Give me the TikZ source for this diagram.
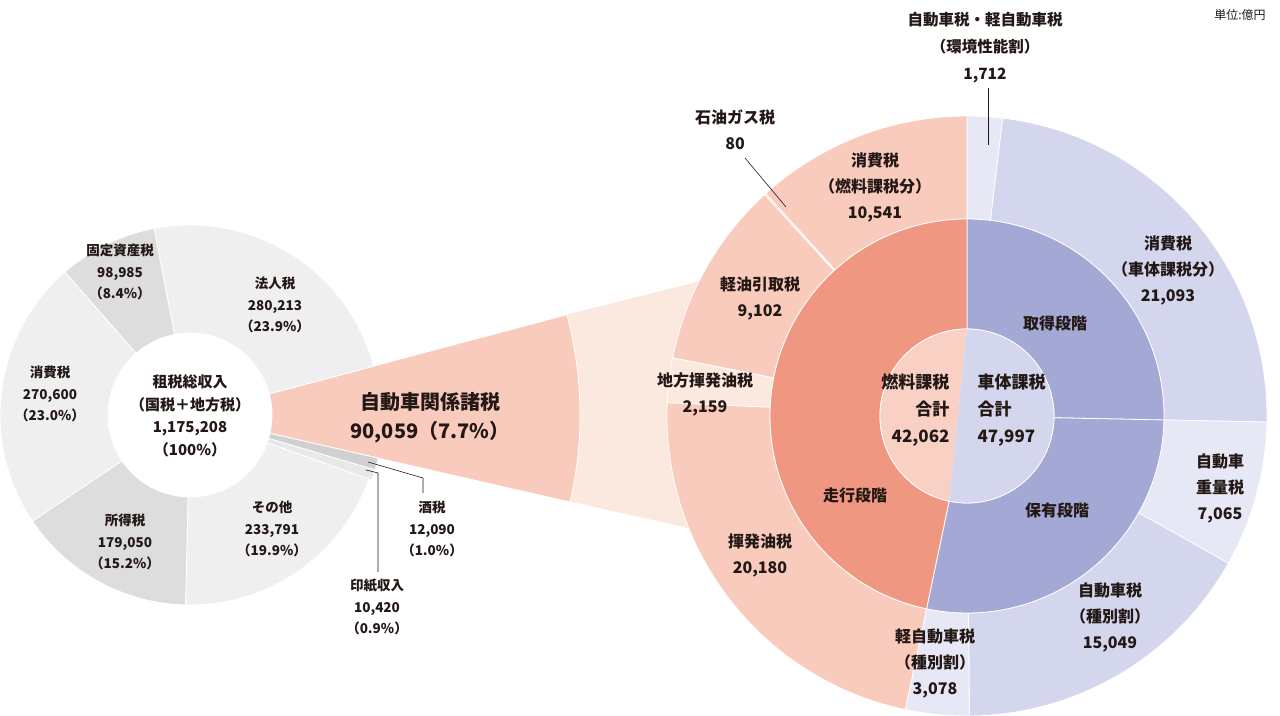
\documentclass[tikz,border=0pt]{standalone}
\usepackage{fontspec}
\setmainfont{Noto Sans CJK JP}
\usetikzlibrary{calc}
\definecolor{lg}{HTML}{EFEFEF}
\definecolor{dg}{HTML}{DCDDDC}
\definecolor{sal}{HTML}{F8CBBD}
\definecolor{cone}{HTML}{FBE9DF}
\definecolor{salm}{HTML}{F09782}
\definecolor{salc}{HTML}{F9D0C4}
\definecolor{lav}{HTML}{D3D6EC}
\definecolor{lavl}{HTML}{E6E8F5}
\definecolor{lavm}{HTML}{A3A8D5}
\definecolor{txt}{HTML}{231815}
\newcommand\sg[6]{\fill[#6,draw=white,line width=0.8pt] ($(#1)+(#4:#3pt)$) arc[start angle=#4,end angle=#5,radius=#3pt] -- ($(#1)+(#5:#2pt)$) arc[start angle=#5,end angle=#4,radius=#2pt] -- cycle;}
\begin{document}
\begin{tikzpicture}[x=1pt,y=1pt,
  big/.style={align=center,text=txt,font=\fontsize{16}{26}\selectfont\bfseries},
  sml/.style={align=center,text=txt,font=\fontsize{13.5}{21.5}\selectfont\bfseries},
  lead/.style={draw=txt,line width=0.6pt}]
\useasboundingbox (0,0) rectangle (1280,715);
\coordinate (L) at (190,300);
\coordinate (R) at (967,299);
% cone
\fill[cone] (565,400) -- (800,459) -- (800,162) -- (568,214) -- cycle;
% left donut
\sg{L}{82}{390}{-12.9}{14.9}{sal}
\sg{L}{82}{190}{14.9}{100.9}{lg}
\sg{L}{82}{190}{100.9}{131.2}{dg}
\sg{L}{82}{190}{131.2}{214}{lg}
\sg{L}{82}{190}{214}{268.7}{dg}
\sg{L}{82}{190}{268.7}{340.3}{lg}
\sg{L}{82}{193}{340.3}{343.5}{lg!60!dg}
\sg{L}{82}{193}{343.5}{347.1}{dg!80!gray!90}
% right donut outer ring
\sg{R}{197}{300}{83.16}{90}{lavl}
\sg{R}{197}{300}{-1.16}{83.16}{lav}
\sg{R}{197}{300}{-29.40}{-1.16}{lavl}
\sg{R}{197}{300}{-89.56}{-29.40}{lav}
\sg{R}{197}{300}{-101.86}{-89.56}{lavl}
\sg{R}{197}{300}{90}{132.14}{sal}
\sg{R}{197}{300}{132.14}{132.46}{sal}
\sg{R}{197}{300}{132.46}{168.84}{sal}
\sg{R}{197}{300}{168.84}{177.47}{cone}
\sg{R}{197}{300}{177.47}{258.14}{sal}
% middle ring
\sg{R}{87}{197}{-1.16}{90}{lavm}
\sg{R}{87}{197}{-101.86}{-1.16}{lavm}
\sg{R}{87}{197}{90}{258.14}{salm}
% centre
\fill[salc] ($(R)+(90:87pt)$) arc[start angle=90,end angle=258.14,radius=87pt] -- cycle;
\fill[lav] ($(R)+(90:87pt)$) arc[start angle=90,end angle=-101.86,radius=87pt] -- cycle;
\draw[white,line width=0.8pt] (R) circle[radius=87pt];
% texts
\node[sml,font=\fontsize{12}{14}\selectfont] (unit) at (1240,700) {単位:億円};
\node[big,font=\fontsize{15.5}{27}\selectfont\bfseries] (kan) at (985,667) {自動車税・軽自動車税\\（環境性能割）\\1,712};
\node[big] (sg1) at (735,585) {石油ガス税\\80};
\node[big] (sn) at (875,528) {消費税\\（燃料課税分）\\10,541};
\node[big] (kei) at (760,417) {軽油引取税\\9,102};
\node[big] (chi) at (705,321) {地方揮発油税\\2,159};
\node[big] (ki) at (760,160) {揮発油税\\20,180};
\node[big,font=\fontsize{17}{27}\selectfont\bfseries,align=right,anchor=east] (nen) at (953,305) {燃料課税\\合計\\42,062};
\node[big,font=\fontsize{17}{27}\selectfont\bfseries,align=left,anchor=west] (sha) at (974,305) {車体課税\\合計\\47,997};
\node[big] (shu) at (1055,392) {取得段階};
\node[big] (ho) at (1057,205) {保有段階};
\node[big] (so) at (855,220) {走行段階};
\node[big] (sv) at (1168,445) {消費税\\（車体課税分）\\21,093};
\node[big] (ju) at (1220,227) {自動車\\重量税\\7,065};
\node[big] (ji) at (1110,98) {自動車税\\（種別割）\\15,049};
\node[big] (kj) at (935,52) {軽自動車税\\（種別割）\\3,078};
\node[sml] (ko) at (120,443) {固定資産税\\98,985\\（8.4\%）};
\node[sml] (ho2) at (275,410) {法人税\\280,213\\（23.9\%）};
\node[sml] (sh) at (50,321) {消費税\\270,600\\（23.0\%）};
\node[sml,font=\fontsize{15}{22.5}\selectfont\bfseries] (tot) at (190,299) {租税総収入\\（国税＋地方税）\\1,175,208\\（100\%）};
\node[sml] (sy) at (125,173) {所得税\\179,050\\（15.2\%）};
\node[sml] (ot) at (272,186) {その他\\233,791\\（19.9\%）};
\node[sml] (sa) at (432,186) {酒税\\12,090\\（1.0\%）};
\node[sml] (in) at (377,108) {印紙収入\\10,420\\（0.9\%）};
\node[big,font=\fontsize{20}{29}\selectfont\bfseries] (car) at (430,297) {自動車関係諸税\\90,059（7.7\%）};
% leaders
\coordinate (k1) at (988,627); \coordinate (k2) at (988,570);
\draw[lead] (k1) -- (k2);
\coordinate (g1) at (745,557); \coordinate (g2) at (786,508);
\draw[lead] (g1) -- (g2);
\coordinate (s1) at (368,253); \coordinate (s2) at (423,237); \coordinate (s3) at (423,222);
\draw[lead] (s1) -- (s2) -- (s3);
\coordinate (i1) at (366,245); \coordinate (i2) at (378,242); \coordinate (i3) at (378,143);
\draw[lead] (i1) -- (i2) -- (i3);
\end{tikzpicture}
\end{document}
